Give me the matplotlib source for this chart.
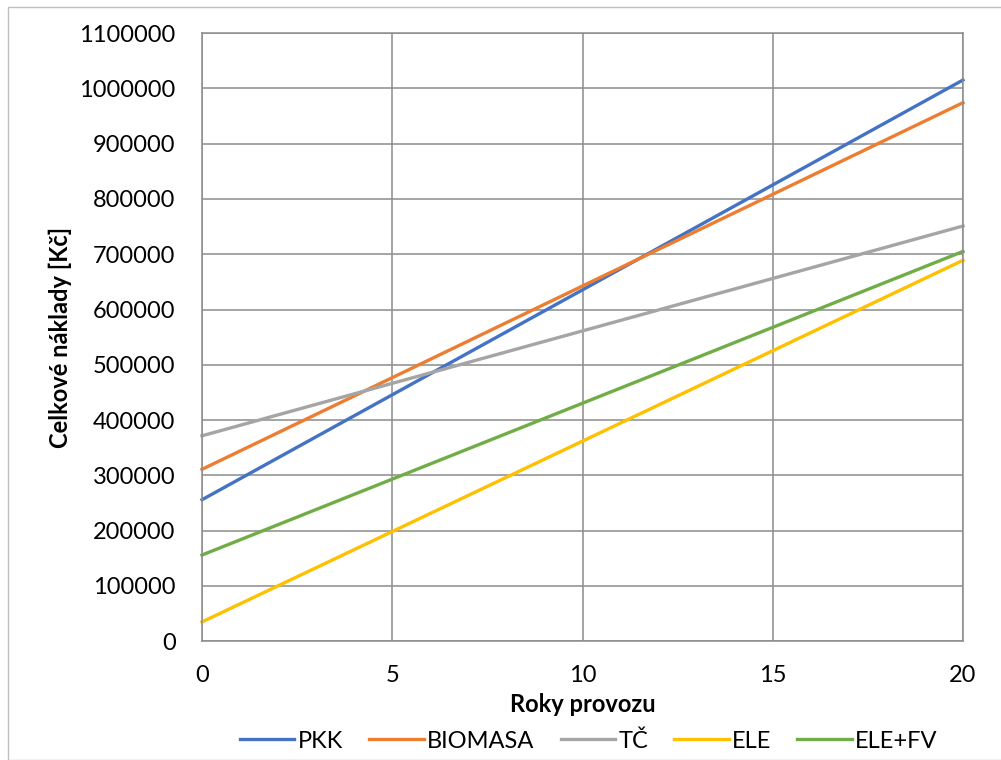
import matplotlib.pyplot as plt
from matplotlib.patches import Rectangle

plt.rcParams['font.family'] = ['Lato', 'DejaVu Sans']

# Roky a celkové náklady jednotlivých zdrojů tepla
roky = [0, 20]
pkk = [256000, 1015000]
biomasa = [311000, 974000]
tc = [371600, 751000]
ele = [35000, 689000]
ele_fv = [156000, 705000]

nazvy = ['PKK', 'BIOMASA', 'TČ', 'ELE', 'ELE+FV']
barvy = ['#4472C4', '#ED7D31', '#A5A5A5', '#FFC000', '#70AD47']
yticky = list(range(0, 1100001, 100000))

fig = plt.figure(figsize=(10.01, 7.6), dpi=100)
fig.patches.append(Rectangle((8 / 1001, 0), 1, 1 - 7 / 760, transform=fig.transFigure,
                             fill=False, edgecolor='#BFBFBF', linewidth=1))
ax = fig.add_axes([202 / 1001, 1 - 641.3 / 760, 761 / 1001, 608.3 / 760])

for y, nazev, barva in zip([pkk, biomasa, tc, ele, ele_fv], nazvy, barvy):
    ax.plot(roky, y, color=barva, linewidth=2.4, label=nazev, clip_on=False)

ax.set_xlim(0, 20)
ax.set_ylim(0, 1100000)
ax.set_xticks([0, 5, 10, 15, 20])
ax.set_yticks(yticky)
ax.set_yticklabels([str(v) for v in yticky])
ax.grid(True, color='#8C8C8C', linewidth=1.1)
ax.set_axisbelow(True)
for s in ax.spines.values():
    s.set_color('#8C8C8C')
    s.set_linewidth(1.1)
ax.tick_params(length=0, labelsize=17, colors='black')
ax.tick_params(axis='y', pad=19)
ax.tick_params(axis='x', pad=17)

ax.set_xlabel('Roky provozu', fontsize=17, fontweight='bold', labelpad=5)
ax.set_ylabel('Celkové náklady [Kč]', fontsize=17, fontweight='bold', labelpad=5)

fig.legend(loc='center', bbox_to_anchor=(589 / 1001, 1 - 741 / 760), ncol=5,
           frameon=False, fontsize=17, handlelength=2.3, handletextpad=0.15,
           columnspacing=1.1)

plt.savefig('out.png', dpi=100)
